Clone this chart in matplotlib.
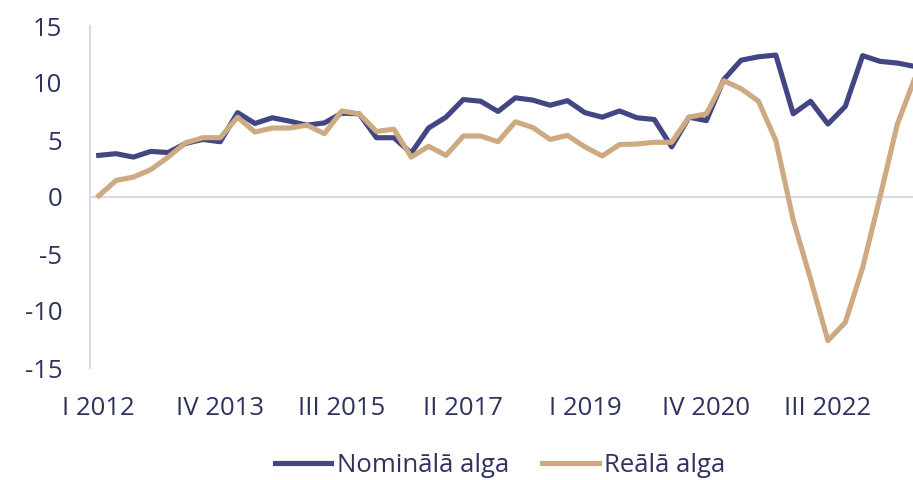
import matplotlib.pyplot as plt
import numpy as np

plt.rcParams['font.family'] = ['Open Sans', 'DejaVu Sans']
plt.rcParams['axes.unicode_minus'] = False

# quarterly wage growth, % y/y, I 2012 .. IV 2023
nominal = [3.65, 3.8, 3.5, 4.0, 3.9, 4.7, 5.05, 4.85,
           7.4, 6.45, 6.95, 6.65, 6.3, 6.5, 7.35, 7.3,
           5.2, 5.2, 3.85, 6.05, 7.0, 8.55, 8.4, 7.5,
           8.7, 8.5, 8.05, 8.45, 7.4, 7.0, 7.55, 6.95,
           6.8, 4.4, 7.0, 6.7, 10.3, 12.0, 12.3, 12.45,
           7.3, 8.4, 6.4, 7.95, 12.4, 11.9, 11.75, 11.45]
real = [0.1, 1.45, 1.75, 2.4, 3.5, 4.75, 5.2, 5.2,
        7.0, 5.7, 6.05, 6.05, 6.3, 5.55, 7.55, 7.3,
        5.75, 5.95, 3.5, 4.45, 3.65, 5.35, 5.35, 4.85,
        6.6, 6.1, 5.05, 5.4, 4.4, 3.6, 4.6, 4.65,
        4.8, 4.8, 7.0, 7.3, 10.2, 9.5, 8.4, 4.95,
        -2.0, -7.2, -12.6, -11.0, -6.2, 0.0, 6.4, 10.4]
tick_labels = ['I 2012', 'IV 2013', 'III 2015', 'II 2017', 'I 2019', 'IV 2020', 'III 2022']

navy = '#424682'
tan = '#cdaa82'
text_col = '#2f325e'
line_col = '#d9d8ec'

fig = plt.figure(figsize=(9.13, 4.80), dpi=100)
ax = fig.add_axes([90 / 913, 1 - 368 / 480, 1 - 90 / 913, (368 - 26) / 480])

x = np.arange(len(nominal))
ax.plot(x, nominal, color=navy, lw=3.7, solid_joinstyle='round', label='Nominālā alga', zorder=3)
ax.plot(x, real, color=tan, lw=3.7, solid_joinstyle='round', label='Reālā alga', zorder=4)

ax.axhline(0, color=line_col, lw=1.5, zorder=1)
ax.set_xlim(-0.5, 46.9)
ax.set_ylim(-15, 15)
ax.set_yticks(range(-15, 16, 5))
ax.set_xticks(range(0, 7 * len(tick_labels), 7))
ax.set_xticklabels(tick_labels)

for s in ['top', 'right', 'bottom']:
    ax.spines[s].set_visible(False)
ax.spines['left'].set_color(line_col)
ax.spines['left'].set_linewidth(1.5)
ax.tick_params(axis='both', length=0, labelsize=18.5, labelcolor=text_col)
ax.tick_params(axis='y', pad=20)
ax.tick_params(axis='x', pad=20)

fig.legend(loc='center', bbox_to_anchor=(500 / 913, 1 - 465 / 480), ncol=2, frameon=False,
           fontsize=18.5, labelcolor=text_col, handlelength=2.2, handletextpad=0.2,
           columnspacing=1.3)

fig.savefig('out.png', dpi=100)
